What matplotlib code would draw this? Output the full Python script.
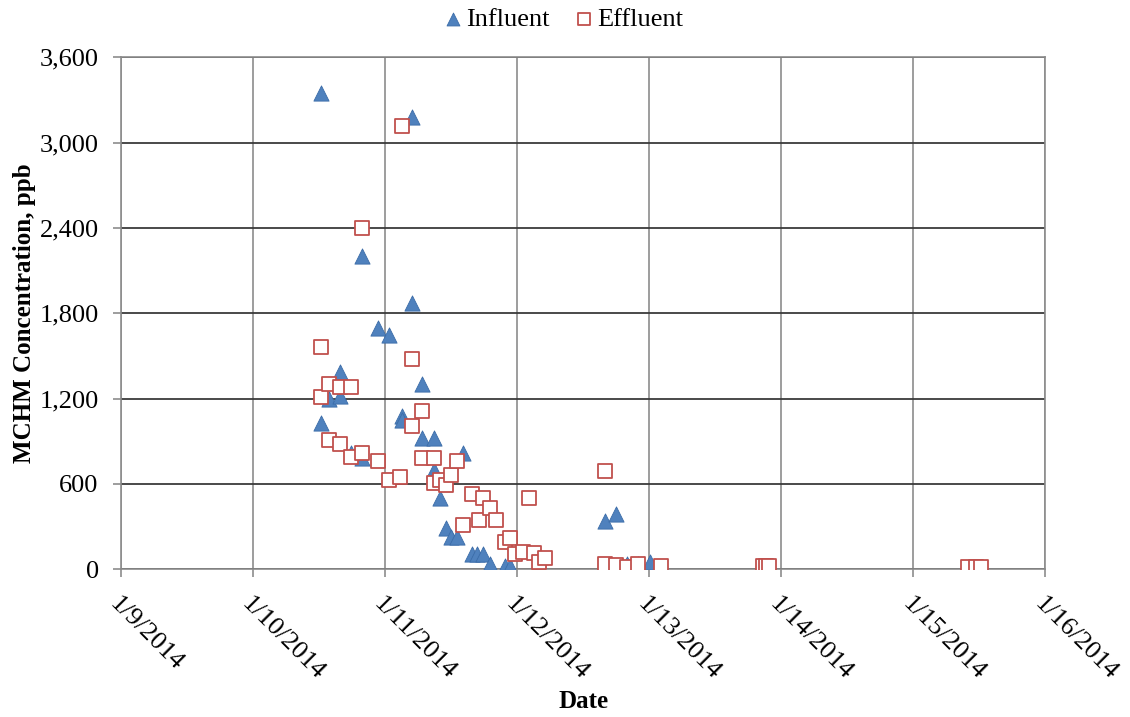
import matplotlib
matplotlib.use("Agg")
import matplotlib.pyplot as plt
import matplotlib.dates as mdates
from matplotlib.ticker import FuncFormatter
import pandas as pd

# influent samples
inf_time = ["2014-01-10 12:20", "2014-01-10 12:20", "2014-01-10 13:50", "2014-01-10 15:50",
            "2014-01-10 15:50", "2014-01-10 17:50", "2014-01-10 19:50", "2014-01-10 19:50",
            "2014-01-10 22:45", "2014-01-11 00:45", "2014-01-11 03:00", "2014-01-11 03:00",
            "2014-01-11 04:50", "2014-01-11 04:50", "2014-01-11 06:45", "2014-01-11 06:45",
            "2014-01-11 08:55", "2014-01-11 08:55", "2014-01-11 10:00", "2014-01-11 11:10",
            "2014-01-11 12:00", "2014-01-11 13:10", "2014-01-11 14:15", "2014-01-11 15:50",
            "2014-01-11 16:45", "2014-01-11 17:50", "2014-01-11 19:10", "2014-01-11 21:50",
            "2014-01-11 22:45", "2014-01-12 15:55", "2014-01-12 17:55", "2014-01-12 20:00",
            "2014-01-12 21:55", "2014-01-13 00:05", "2014-01-13 20:50", "2014-01-15 09:55"]
inf_val = [3350, 1030, 1200, 1390,
           1220, 820, 2200, 780,
           1700, 1650, 1080, 1050,
           3180, 1870, 1300, 920,
           920, 700, 500, 290,
           225, 225, 815, 110,
           110, 105, 40, 25,
           20, 340, 390, 35,
           35, 50, 5, 5]

# effluent samples
eff_time = ["2014-01-10 12:20", "2014-01-10 12:20", "2014-01-10 13:50", "2014-01-10 13:50",
            "2014-01-10 15:50", "2014-01-10 15:50", "2014-01-10 17:50", "2014-01-10 17:50",
            "2014-01-10 19:50", "2014-01-10 19:50", "2014-01-10 22:45", "2014-01-11 00:45",
            "2014-01-11 02:45", "2014-01-11 03:05", "2014-01-11 04:50", "2014-01-11 04:50",
            "2014-01-11 06:45", "2014-01-11 06:45", "2014-01-11 08:55", "2014-01-11 08:55",
            "2014-01-11 10:00", "2014-01-11 11:10", "2014-01-11 12:00", "2014-01-11 13:10",
            "2014-01-11 14:15", "2014-01-11 15:50", "2014-01-11 17:10", "2014-01-11 17:50",
            "2014-01-11 19:10", "2014-01-11 20:05", "2014-01-11 21:50", "2014-01-11 22:45",
            "2014-01-11 23:40", "2014-01-12 01:10", "2014-01-12 02:05", "2014-01-12 03:00",
            "2014-01-12 03:55", "2014-01-12 05:00", "2014-01-12 15:55", "2014-01-12 15:55",
            "2014-01-12 17:55", "2014-01-12 19:55", "2014-01-12 21:55", "2014-01-13 02:05",
            "2014-01-13 20:40", "2014-01-13 21:20", "2014-01-13 21:45", "2014-01-15 09:55",
            "2014-01-15 11:20", "2014-01-15 12:20"]
eff_val = [1560, 1210, 1300, 910,
           1280, 880, 1280, 790,
           2400, 815, 760, 630,
           650, 3120, 1480, 1010,
           1110, 780, 780, 610,
           630, 590, 660, 760,
           315, 530, 350, 500,
           430, 345, 190, 220,
           105, 120, 500, 112,
           50, 77, 690, 35,
           28, 14, 35, 21,
           20, 20, 20, 15,
           15, 15]

plt.rcParams["font.family"] = ["Liberation Serif", "DejaVu Serif"]

fig = plt.figure(figsize=(11.3, 7.17), dpi=100)
ax = fig.add_axes([0.107, 0.206, 0.818, 0.714])

ax.scatter(pd.to_datetime(inf_time), inf_val, marker="^", s=120, c="#4F81BD",
           edgecolors="#3B6CA8", linewidths=0.6, label="Influent", zorder=3)
ax.scatter(pd.to_datetime(eff_time), eff_val, marker="s", s=100, facecolors="white",
           edgecolors="#C0504D", linewidths=1.3, label="Effluent", zorder=4)

ax.set_xlim(pd.Timestamp("2014-01-09"), pd.Timestamp("2014-01-16"))
ax.set_ylim(0, 3600)
ax.set_yticks(range(0, 3601, 600))
ax.yaxis.set_major_formatter(FuncFormatter(lambda v, p: f"{int(v):,}"))
ax.xaxis.set_major_locator(mdates.DayLocator())
ax.xaxis.set_major_formatter(FuncFormatter(
    lambda v, p: "{d.month}/{d.day}/{d.year}".format(d=mdates.num2date(v))))

ax.grid(axis="y", color="#3a3a3a", linewidth=1.3, zorder=0)
ax.grid(axis="x", color="#8c8c8c", linewidth=1.2, zorder=0)
ax.set_axisbelow(True)
for s in ax.spines.values():
    s.set_color("#8c8c8c")
    s.set_linewidth(1.2)
ax.tick_params(axis="both", labelsize=19, color="#8c8c8c", length=6, width=1.2)
ax.tick_params(axis="y", pad=10)
ax.tick_params(axis="x", pad=11)
for lab in ax.get_xticklabels():
    lab.set_rotation(-45)
    lab.set_ha("left")
    lab.set_va("top")
    lab.set_rotation_mode("anchor")

ax.set_xlabel("Date", fontsize=18, fontweight="bold", labelpad=4)
ax.set_ylabel("MCHM Concentration, ppb", fontsize=18, fontweight="bold")
ax.yaxis.set_label_coords(-0.092, 0.5)

ax.legend(loc="lower center", bbox_to_anchor=(0.478, 1.02), ncol=2, frameon=False,
          fontsize=19, handletextpad=0.1, handlelength=0.8, columnspacing=0.9,
          borderaxespad=0.2, markerscale=0.85)

fig.savefig("out.png", dpi=100)
